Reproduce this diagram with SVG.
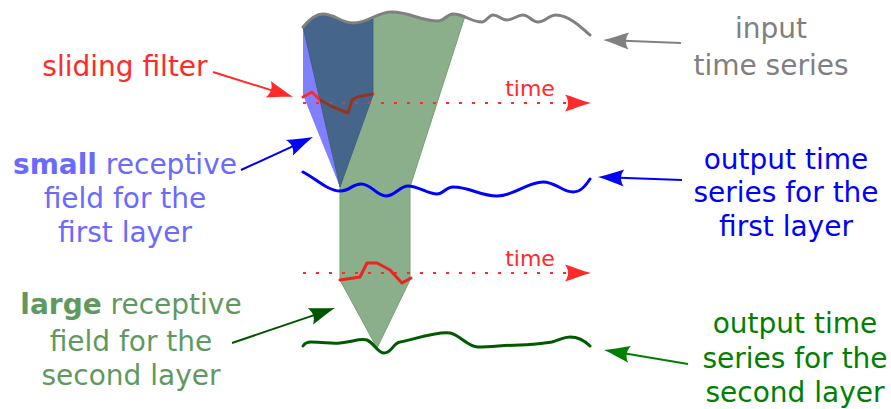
<svg xmlns="http://www.w3.org/2000/svg" width="891" height="409" viewBox="0 0 891 409">
<style>
text{font-family:"DejaVu Sans","Liberation Sans",sans-serif;font-size:28px;text-anchor:middle}
.wave{fill:none;stroke-width:3;stroke-linecap:round;stroke-linejoin:round}
.dot{fill:none;stroke:#ff2a2a;stroke-width:2;stroke-dasharray:3 10}
.call{fill:none;stroke-width:2}
.filt{fill:none;stroke-width:3;stroke-linejoin:round;stroke-linecap:round}
</style>
<defs>
<path id="ah" d="M8,0 C0,-2 -10,-6 -18,-8.5 C-14,-3 -14,3 -18,8.5 C-10,6 0,2 8,0 Z"/>
<marker id="mRed" markerUnits="userSpaceOnUse" orient="auto" overflow="visible" markerWidth="1" markerHeight="1"><use href="#ah" fill="#ff2a2a"/></marker>
<marker id="mBlue" markerUnits="userSpaceOnUse" orient="auto" overflow="visible" markerWidth="1" markerHeight="1"><use href="#ah" fill="#0000ff"/></marker>
<marker id="mGray" markerUnits="userSpaceOnUse" orient="auto" overflow="visible" markerWidth="1" markerHeight="1"><use href="#ah" fill="#808080"/></marker>
<marker id="mDkGreen" markerUnits="userSpaceOnUse" orient="auto" overflow="visible" markerWidth="1" markerHeight="1"><use href="#ah" fill="#005500"/></marker>
<marker id="mGreen" markerUnits="userSpaceOnUse" orient="auto" overflow="visible" markerWidth="1" markerHeight="1"><use href="#ah" fill="#008000"/></marker>
<clipPath id="darkClip"><path d="M303,27 C308,21 315,14 323,14 C335,14 341,23 353,23 C362,23 368,20 373,18 L373,95 L340,187 Z"/></clipPath>
</defs>

<g id="receptive-fields">
<path id="green-field" d="M303,27 C308,21 315,14 323,14 C335,14 341,23 353,23 C369,23 376,12 392,12 C410,12 420,21 438,21 C444,21 447,14 453,14 C457,14 460,15 465,16 L410,187 L410,280 L377,348 L340,280 L340,187 Z" fill="#8aaf8a" stroke="#74a074" stroke-width="1"/>
<path id="small-field-outer" d="M303,27 L303,95 L340,187 Z" fill="#8080ff"/>
<path id="small-field-inner" d="M303,27 C308,21 315,14 323,14 C335,14 341,23 353,23 C362,23 368,20 373,18 L373,95 L340,187 Z" fill="#45668a" stroke="#3a5a80" stroke-width="0.8"/>
</g>

<g id="time-axes">
<line class="dot" x1="303" y1="103" x2="583" y2="103" marker-end="url(#mRed)"/>
<line class="dot" x1="303" y1="103" x2="420" y2="103" stroke="#8a5a7a" clip-path="url(#darkClip)" style="stroke:#8a5a7a"/>
<line class="dot" x1="303" y1="273" x2="583" y2="273" marker-end="url(#mRed)"/>
<text x="530" y="96" fill="#ff2a2a" style="font-size:22px">time</text>
<text x="530" y="266" fill="#ff2a2a" style="font-size:22px">time</text>
</g>

<g id="filters">
<polyline class="filt" stroke="#ff2a2a" points="303,97 312,92 320,100 333,107 348,113 352,100 357,97 373,94"/>
<polyline class="filt" stroke="#843a28" clip-path="url(#darkClip)" points="303,97 312,92 320,100 333,107 348,113 352,100 357,97 373,94"/>
<polyline class="filt" stroke="#ee2222" points="340,280 360,277 367,263 377,263 390,270 402,283 411,278"/>
</g>

<g id="series">
<path id="input-series" class="wave" stroke="#808080" d="M303,27 C308,21 315,14 323,14 C335,14 341,23 353,23 C369,23 376,12 392,12 C410,12 420,21 438,21 C444,21 447,14 453,14 C465,14 470,22 482,22 C486,22 489,15 493,15 C499,15 501,20 507,20 C513,20 517,15 523,15 C529,15 532,22 538,22 C545,22 549,15 556,15 C568,15 580,26 590,35"/>
<path id="first-series" class="wave" stroke="#0000ff" d="M303,172 C315,178 328,191 340,191 C350,191 352,184 361,184 C372,184 376,196 386,196 C395,196 400,186 408,186 C418,186 428,194 437,194 C443,194 446,187 453,187 C470,187 480,196 497,196 C514,196 527,182 543,182 C556,182 562,192 573,192 C581,192 586,185 590,179"/>
<path id="second-series" class="wave" stroke="#005a00" d="M303,346 C305,343 307,342 311,342 C325,342 330,344 340,343 C352,342 360,338 367,340 C374,343 378,353 384,353 C392,353 393,343 400,342 C412,340 437,331 450,333 C460,335 468,347 478,347 C492,347 505,345 520,345 C535,345 545,343 552,342 C560,340 563,337 570,337 C580,337 586,342 590,346"/>
</g>

<g id="connectors">
<line class="call" stroke="#ff2a2a" x1="213" y1="72" x2="285.4" y2="94.6" marker-end="url(#mRed)"/>
<line class="call" stroke="#0000ff" x1="241" y1="170" x2="305.7" y2="140.3" marker-end="url(#mBlue)"/>
<line class="call" stroke="#005500" x1="232" y1="343" x2="327.4" y2="310.6" marker-end="url(#mDkGreen)"/>
<line class="call" stroke="#808080" x1="681" y1="43" x2="611" y2="40.3" marker-end="url(#mGray)"/>
<line class="call" stroke="#0000ff" x1="682" y1="180" x2="606" y2="177.3" marker-end="url(#mBlue)"/>
<line class="call" stroke="#008000" x1="688" y1="364" x2="611.9" y2="351.3" marker-end="url(#mGreen)"/>
</g>

<g id="label-sliding-filter"><text x="125" y="76" fill="#ff2a2a">sliding filter</text></g>
<g id="label-small-field" fill="#6a6aff">
<text x="125" y="174"><tspan font-weight="bold">small</tspan> receptive</text>
<text x="125" y="208">field for the</text>
<text x="125" y="242">first layer</text>
</g>
<g id="label-large-field" fill="#5f995f">
<text x="131" y="314"><tspan font-weight="bold">large</tspan> receptive</text>
<text x="131" y="351">field for the</text>
<text x="131" y="385">second layer</text>
</g>
<g id="label-input" fill="#808080">
<text x="771" y="38">input</text>
<text x="771" y="75">time series</text>
</g>
<g id="label-first-output" fill="#0000ff">
<text x="786" y="169">output time</text>
<text x="786" y="202">series for the</text>
<text x="786" y="236">first layer</text>
</g>
<g id="label-second-output" fill="#008000">
<text x="795" y="333">output time</text>
<text x="795" y="368">series for the</text>
<text x="795" y="402">second layer</text>
</g>
</svg>
